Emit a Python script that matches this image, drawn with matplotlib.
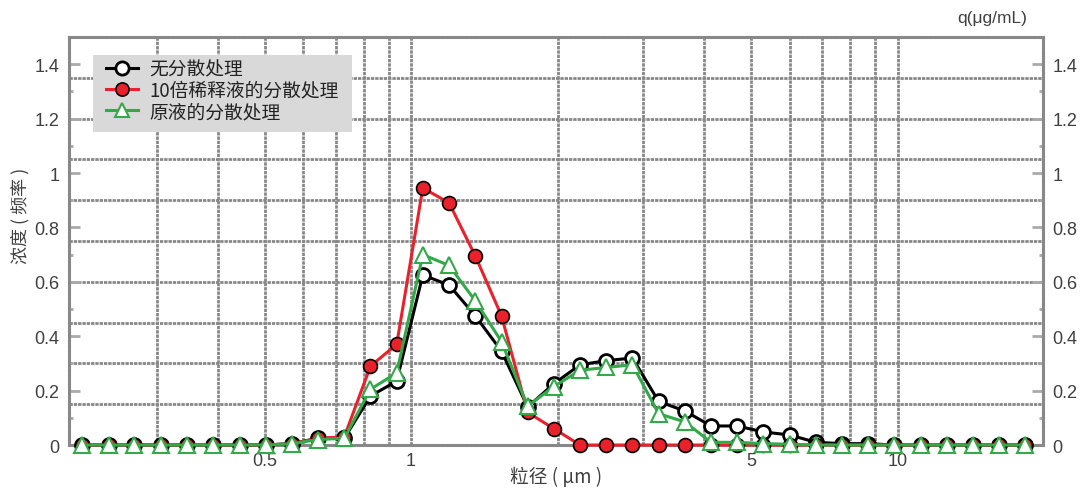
import numpy as np
import matplotlib
matplotlib.use("Agg")
import matplotlib.pyplot as plt
from matplotlib.patches import Rectangle
from matplotlib.ticker import FixedLocator, NullFormatter, MultipleLocator

plt.rcParams['font.family'] = ['Noto Sans CJK SC', 'DejaVu Sans']

# particle size bins (um)
sizes = [0.211, 0.239, 0.270, 0.306, 0.346, 0.392, 0.444, 0.502, 0.569, 0.644,
         0.729, 0.825, 0.934, 1.057, 1.197, 1.355, 1.534, 1.736, 1.965, 2.225,
         2.519, 2.851, 3.228, 3.654, 4.136, 4.682, 5.300, 6.000, 6.792, 7.689,
         8.704, 9.853, 11.15, 12.63, 14.29, 16.18, 18.32]

no_disp = [0, 0, 0, 0, 0, 0, 0, 0, 0.005, 0.025,
           0.025, 0.18, 0.235, 0.625, 0.588, 0.475, 0.345, 0.14, 0.225, 0.295,
           0.31, 0.32, 0.16, 0.125, 0.07, 0.07, 0.048, 0.037, 0.01, 0.005,
           0.005, 0, 0, 0, 0, 0, 0]
diluted = [0, 0, 0, 0, 0, 0, 0, 0, 0.005, 0.025,
           0.03, 0.29, 0.37, 0.945, 0.89, 0.695, 0.475, 0.12, 0.06, 0,
           0, 0, 0, 0, 0, 0, 0, 0, 0, 0,
           0, 0, 0, 0, 0, 0, 0]
stock = [0, 0, 0, 0, 0, 0, 0, 0, 0.005, 0.02,
         0.025, 0.205, 0.265, 0.70, 0.66, 0.53, 0.38, 0.143, 0.215, 0.275,
         0.285, 0.295, 0.115, 0.085, 0.01, 0.01, 0.005, 0.003, 0, 0,
         0, 0, 0, 0, 0, 0, 0]

labels = ["无分散处理", "10倍稀释液的分散处理", "原液的分散处理"]
xtick_vals = [0.5, 1, 5, 10]
xtick_labels = ["0.5", "1", "5", "10"]
ytick_vals = [0, 0.2, 0.4, 0.6, 0.8, 1, 1.2, 1.4]
ytick_labels = ["0", "0.2", "0.4", "0.6", "0.8", "1", "1.2", "1.4"]

grid_c = "#888888"
text_c = "#404040"
num_font = ['Liberation Sans', 'DejaVu Sans']

fig = plt.figure(figsize=(10.81, 4.89), dpi=100)
ax = fig.add_axes([0.0638, 0.0879, 0.9010, 0.8344])
ax.set_xscale("log")
ax.set_xlim(0.198, 19.9)
ax.set_ylim(0, 1.5)

# grid (y grid every 0.15, x grid on the log decades)
gstyle = dict(color=grid_c, linewidth=2.0, linestyle=(0, (1.2, 0.35)), zorder=0)
for v in np.arange(0.15, 1.5, 0.15):
    ax.axhline(v, **gstyle)
decade_lines = [0.3, 0.4, 0.5, 0.6, 0.7, 0.8, 0.9, 1, 2, 3, 4, 5, 6, 7, 8, 9, 10]
for v in decade_lines:
    ax.axvline(v, **gstyle)

ax.plot(sizes, no_disp, color="black", lw=2.2, marker="o", ms=10, mfc="white",
        mec="black", mew=2, label=labels[0], clip_on=False, zorder=3)
ax.plot(sizes, diluted, color="#e8212b", lw=2.2, marker="o", ms=10, mfc="#e8212b",
        mec="black", mew=1.2, label=labels[1], clip_on=False, zorder=4)
ax.plot(sizes, stock, color="#33a94a", lw=2.2, marker="^", ms=11, mfc="white",
        mec="#33a94a", mew=1.5, label=labels[2], clip_on=False, zorder=5)

for s in ax.spines.values():
    s.set_color(grid_c)
    s.set_linewidth(2.2)
    s.set_linestyle((0, (1.2, 0.35)))

ax.xaxis.set_major_locator(FixedLocator(xtick_vals))
ax.set_xticklabels(xtick_labels, family=num_font)
ax.xaxis.set_minor_formatter(NullFormatter())
ax.tick_params(axis="x", which="both", length=0, pad=5, labelsize=13, labelcolor=text_c)

ax.yaxis.set_minor_locator(MultipleLocator(0.1))
ax.set_yticks(ytick_vals)
ax.set_yticklabels(ytick_labels, family=num_font)
ax.tick_params(axis="y", which="major", direction="in", length=8, width=2, color="#aaaaaa",
               left=True, right=True, labelleft=True, labelright=True,
               labelsize=13, labelcolor=text_c, pad=7)
ax.tick_params(axis="y", which="minor", direction="in", length=3, width=2, color="#aaaaaa",
               left=True, right=True)

fig.text(20 / 1081, 1 - 216 / 489, "浓度 ( 频率 )", fontsize=13, color=text_c,
         rotation=90, ha="center", va="center")
fig.text(556 / 1081, 1 - 478 / 489, "粒径 ( μm )", fontsize=13.5, color=text_c,
         ha="center", va="center")
fig.text(1027 / 1081, 1 - 18 / 489, "q(μg/mL)", fontsize=12.5, color=text_c,
         ha="right", va="center", family=['Liberation Sans', 'DejaVu Sans'])

# legend background box
ax.add_patch(Rectangle((0.0246, 0.767), 0.266, 0.189, transform=ax.transAxes,
                       facecolor="#d9d9d9", edgecolor="none", zorder=6))
leg = ax.legend(loc="upper left", bbox_to_anchor=(0.038, 0.948), borderaxespad=0,
                fontsize=13.5, frameon=False, labelspacing=0.02, handlelength=1.7,
                handletextpad=0.6, borderpad=0.0, markerscale=0.95)
leg.set_zorder(7)
for t in leg.get_texts():
    t.set_color("#222222")

fig.savefig("out.png", dpi=100)
